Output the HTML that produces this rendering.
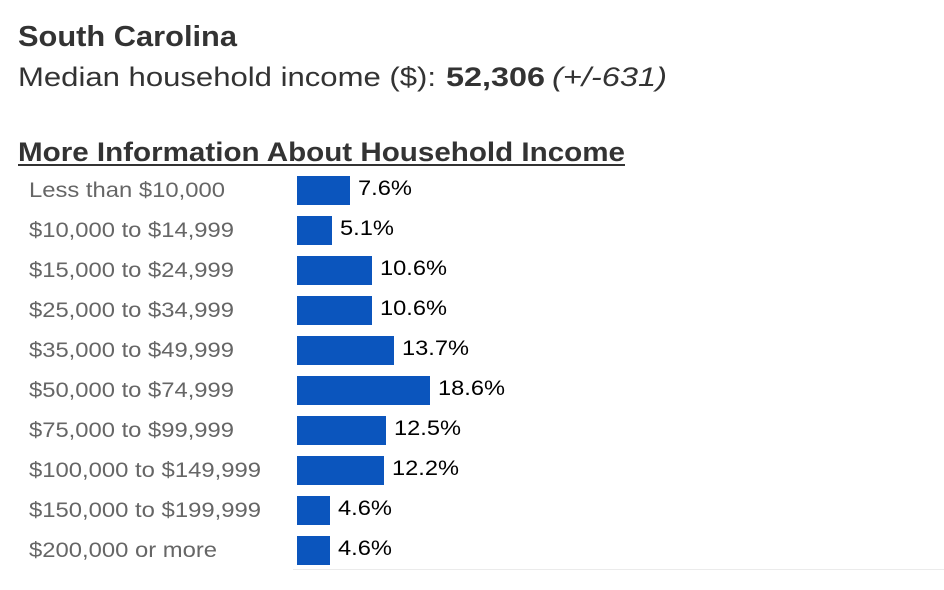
<!DOCTYPE html>
<html><head><meta charset="utf-8"><style>
html,body{margin:0;padding:0;background:#fff;}
svg{display:block;}
</style></head><body>
<svg width="944" height="590" viewBox="0 0 944 590" xmlns="http://www.w3.org/2000/svg" font-family="Liberation Sans, Arial, sans-serif">
<text x="18" y="46" font-size="29" font-weight="bold" fill="#333" textLength="219" lengthAdjust="spacingAndGlyphs">South Carolina</text>
<text x="18" y="86" font-size="27" fill="#333" textLength="418" lengthAdjust="spacingAndGlyphs">Median household income ($):</text>
<text x="446" y="86" font-size="27" font-weight="bold" fill="#333" textLength="99" lengthAdjust="spacingAndGlyphs">52,306</text>
<text x="552" y="86" font-size="27" font-style="italic" fill="#333" textLength="115" lengthAdjust="spacingAndGlyphs">(+/-631)</text>
<text x="18" y="161" font-size="27" font-weight="bold" fill="#333" textLength="607" lengthAdjust="spacingAndGlyphs">More Information About Household Income</text>
<rect x="18" y="164" width="607" height="2" fill="#333"/>
<g font-size="21" fill="#666" lengthAdjust="spacingAndGlyphs">
<text x="29" y="197" textLength="196" lengthAdjust="spacingAndGlyphs">Less than $10,000</text>
<text x="29" y="237" textLength="205" lengthAdjust="spacingAndGlyphs">$10,000 to $14,999</text>
<text x="29" y="277" textLength="205" lengthAdjust="spacingAndGlyphs">$15,000 to $24,999</text>
<text x="29" y="317" textLength="205" lengthAdjust="spacingAndGlyphs">$25,000 to $34,999</text>
<text x="29" y="357" textLength="205" lengthAdjust="spacingAndGlyphs">$35,000 to $49,999</text>
<text x="29" y="397" textLength="205" lengthAdjust="spacingAndGlyphs">$50,000 to $74,999</text>
<text x="29" y="437" textLength="205" lengthAdjust="spacingAndGlyphs">$75,000 to $99,999</text>
<text x="29" y="477" textLength="232" lengthAdjust="spacingAndGlyphs">$100,000 to $149,999</text>
<text x="29" y="517" textLength="232" lengthAdjust="spacingAndGlyphs">$150,000 to $199,999</text>
<text x="29" y="557" textLength="188" lengthAdjust="spacingAndGlyphs">$200,000 or more</text>
</g>
<g fill="#0b55bd">
<rect x="297" y="176" width="53" height="29"/>
<rect x="297" y="216" width="35" height="29"/>
<rect x="297" y="256" width="75" height="29"/>
<rect x="297" y="296" width="75" height="29"/>
<rect x="297" y="336" width="97" height="29"/>
<rect x="297" y="376" width="133" height="29"/>
<rect x="297" y="416" width="89" height="29"/>
<rect x="297" y="456" width="87" height="29"/>
<rect x="297" y="496" width="33" height="29"/>
<rect x="297" y="536" width="33" height="29"/>
</g>
<g font-size="21" fill="#000">
<text x="358" y="195" textLength="54" lengthAdjust="spacingAndGlyphs">7.6%</text>
<text x="340" y="235" textLength="54" lengthAdjust="spacingAndGlyphs">5.1%</text>
<text x="380" y="275" textLength="67" lengthAdjust="spacingAndGlyphs">10.6%</text>
<text x="380" y="315" textLength="67" lengthAdjust="spacingAndGlyphs">10.6%</text>
<text x="402" y="355" textLength="67" lengthAdjust="spacingAndGlyphs">13.7%</text>
<text x="438" y="395" textLength="67" lengthAdjust="spacingAndGlyphs">18.6%</text>
<text x="394" y="435" textLength="67" lengthAdjust="spacingAndGlyphs">12.5%</text>
<text x="392" y="475" textLength="67" lengthAdjust="spacingAndGlyphs">12.2%</text>
<text x="338" y="515" textLength="54" lengthAdjust="spacingAndGlyphs">4.6%</text>
<text x="338" y="555" textLength="54" lengthAdjust="spacingAndGlyphs">4.6%</text>
</g>
<rect x="293" y="569" width="651" height="1" fill="#ebebeb"/>
</svg>
</body></html>
